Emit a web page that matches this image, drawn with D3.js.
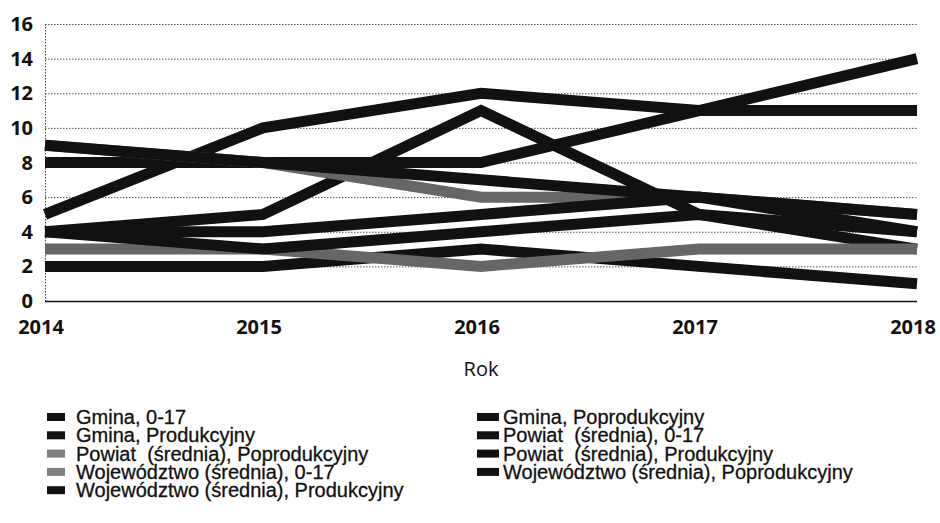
<!DOCTYPE html>
<meta charset="utf-8">
<style>
body { margin: 0; background: #fff; }
.tick-label { font-family: "Open Sans", sans-serif; font-weight: bold; font-size: 20px; fill: #111; }
.axis-title { font-family: "Open Sans", sans-serif; font-size: 20px; fill: #111; }
.legend text { font-family: "Liberation Sans", Arial, sans-serif; font-size: 20px; fill: #111; white-space: pre; stroke: #111; stroke-width: 0.3px; }
.grid line { stroke: #555; stroke-width: 1; stroke-dasharray: 1.5,1.5; }
.series { fill: none; stroke-width: 11; }
</style>
<svg width="940" height="523"></svg>
<script src="https://d3js.org/d3.v7.min.js"></script>
<script>
var years = [2014, 2015, 2016, 2017, 2018];
var yTicks = [0, 2, 4, 6, 8, 10, 12, 14, 16];

var seriesNames = [
  "Gmina, 0-17",
  "Gmina, Poprodukcyjny",
  "Gmina, Produkcyjny",
  "Powiat  (średnia), 0-17",
  "Powiat  (średnia), Poprodukcyjny",
  "Powiat  (średnia), Produkcyjny",
  "Województwo (średnia), 0-17",
  "Województwo (średnia), Poprodukcyjny",
  "Województwo (średnia), Produkcyjny"
];
var gminaKids = [5, 10, 12, 11, 11];
var gminaPost = [8, 8, 8, 11, 14];
var gminaWork = [4, 5, 11, 5, 3];
var powiatKids = [2, 2, 3, 2, 1];
var powiatPost = [3, 3, 2, 3, 3];
var powiatWork = [4, 3, 4, 5, 4];
var wojKids = [9, 8, 6, 6, 5];
var wojPost = [9, 8, 7, 6, 5];
var wojWork = [4, 4, 5, 6, 4];
var seriesValues = [gminaKids, gminaPost, gminaWork, powiatKids, powiatPost,
                    powiatWork, wojKids, wojPost, wojWork];
var seriesColors = ["#111", "#111", "#111", "#111", "#666",
                    "#111", "#666", "#111", "#111"];

var svg = d3.select("svg");

var x = d3.scaleLinear().domain([2014, 2018]).range([45, 917]);
var y = d3.scaleLinear().domain([0, 16]).range([301, 24]);

// grid
svg.append("g").attr("class", "grid")
  .selectAll("line").data(yTicks.filter(function(d) { return d > 0; }))
  .enter().append("line")
    .attr("x1", x(2014)).attr("x2", x(2018))
    .attr("y1", function(d) { return y(d) + 0.5; })
    .attr("y2", function(d) { return y(d) + 0.5; });

svg.append("line")
  .attr("x1", x(2014) + 0.5).attr("x2", x(2014) + 0.5)
  .attr("y1", y(16)).attr("y2", y(0))
  .attr("stroke", "#444").attr("stroke-dasharray", "1.5,1.5");

svg.append("line")
  .attr("x1", x(2014)).attr("x2", x(2018))
  .attr("y1", y(0) + 0.5).attr("y2", y(0) + 0.5)
  .attr("stroke", "#111").attr("stroke-width", 1.5);

// y labels
svg.append("g").selectAll("text").data(yTicks)
  .enter().append("text")
    .attr("class", "tick-label")
    .attr("x", 33)
    .attr("y", function(d) { return y(d); })
    .attr("dy", "0.35em")
    .attr("text-anchor", "end")
    .text(function(d) { return d; });

// x labels
svg.append("g").selectAll("text").data(years)
  .enter().append("text")
    .attr("class", "tick-label")
    .attr("x", function(d) { return x(d) - 4; })
    .attr("y", 334)
    .attr("text-anchor", "middle")
    .text(function(d) { return d; });

svg.append("text")
  .attr("class", "axis-title")
  .attr("x", 481).attr("y", 376)
  .attr("text-anchor", "middle")
  .text("Rok");

// lines
var line = d3.line()
  .x(function(d, i) { return x(years[i]); })
  .y(function(d) { return y(d); });

svg.append("g").selectAll("path").data(seriesValues)
  .enter().append("path")
    .attr("class", "series")
    .attr("stroke", function(d, i) { return seriesColors[i]; })
    .attr("d", line);

// legend, two columns filled row by row
var legend = svg.append("g").attr("class", "legend")
  .selectAll("g").data(seriesNames)
  .enter().append("g")
    .attr("transform", function(d, i) {
      var col = i % 2, row = Math.floor(i / 2);
      return "translate(" + (col ? 477 : 47) + "," + (417 + row * 18.3) + ")";
    });

legend.append("rect")
  .attr("x", 0).attr("y", -4)
  .attr("width", function(d, i) { return i % 2 ? 22 : 18; })
  .attr("height", 8)
  .attr("fill", function(d, i) { return seriesColors[i] === "#111" ? "#111" : "#808080"; });

legend.append("text")
  .attr("x", function(d, i) { return i % 2 ? 26 : 29; })
  .attr("dy", "0.35em")
  .text(function(d) { return d; });
</script>
